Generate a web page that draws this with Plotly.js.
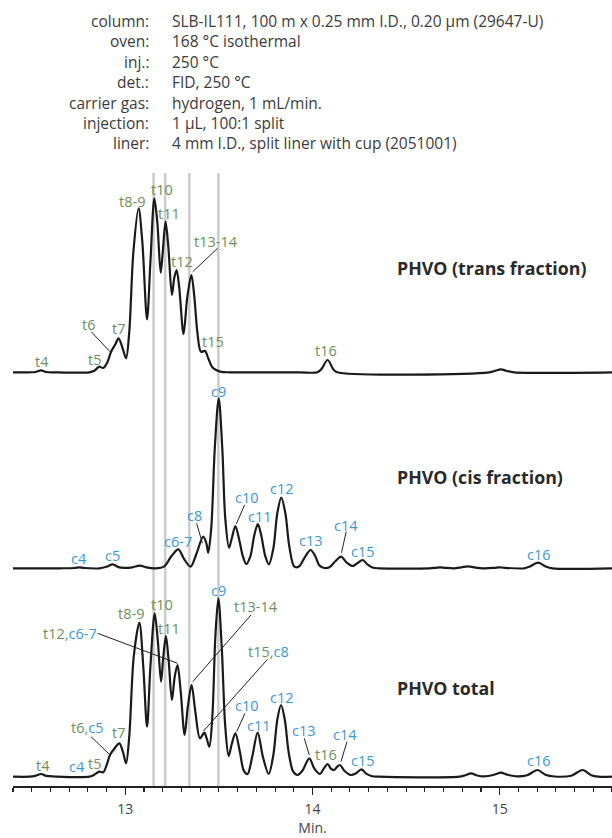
<!DOCTYPE html>
<html>
<head>
<meta charset="utf-8">
<script src="https://cdn.plot.ly/plotly-3.0.1.min.js"></script>
<style>html,body{margin:0;padding:0;background:#fff;}#chart{width:612px;height:838px;}</style>
</head>
<body>
<div id="chart"></div>
<script>
// ---- Data (retention time in min, signal height in arbitrary units) ----
const transTime = [12.40,12.487,12.519,12.550,12.578,12.621,12.808,12.834,12.861,12.882,12.904,12.924,12.947,12.964,12.984,13.004,13.021,13.043,13.071,13.091,13.116,13.134,13.155,13.171,13.189,13.200,13.215,13.230,13.249,13.262,13.274,13.288,13.311,13.331,13.353,13.369,13.385,13.404,13.426,13.443,13.465,13.485,13.513,13.556,13.929,14.026,14.047,14.081,14.111,14.132,14.944,14.976,15.007,15.036,15.078,15.60];
const transSignal = [0,0,0.3,2,0.3,0,0,1.5,5.6,4.3,10,20.6,28,34,25,14,40,120,164,130,53,110,174,150,99.6,120,150.6,125,77.3,95,102.3,85,38.3,75,97.3,75,40,20.6,21.3,14,5,2.3,0.5,0,0,0,3,12.3,3,0,0,1.5,3,1.5,0,0];

const cisTime = [12.40,12.647,12.728,12.754,12.781,12.861,12.899,12.932,12.963,12.995,13.037,13.078,13.112,13.160,13.208,13.246,13.283,13.315,13.349,13.379,13.416,13.433,13.443,13.459,13.478,13.499,13.518,13.534,13.554,13.569,13.588,13.609,13.628,13.646,13.668,13.689,13.708,13.726,13.748,13.767,13.791,13.812,13.833,13.855,13.876,13.903,13.929,13.962,13.990,14.015,14.036,14.058,14.090,14.122,14.153,14.181,14.215,14.239,14.268,14.293,14.325,14.357,14.624,14.656,14.683,14.709,14.757,14.795,14.831,14.864,14.918,14.971,14.998,15.025,15.131,15.158,15.206,15.249,15.281,15.60];
const cisSignal = [0,0,0.3,1,0.3,0,1.5,4,1.2,0.5,1,2.7,1,0,2,12,19,9,1.6,14,31.6,25,15.6,40,120,170,120,50,20.6,30,42.3,28,12,4.3,12,33,44.3,33,12,4,20,55,70.6,55,22,1.6,2,12,18.3,12,3,0.5,1,7,11.6,6,2.3,5,8.3,4,0.5,0,0,0.5,1,0.5,0,1,2,1,0,0.5,1,0.5,0,1.5,5.6,1.5,0,0];

const totalTime = [12.40,12.487,12.519,12.550,12.578,12.621,12.808,12.834,12.861,12.882,12.901,12.918,12.941,12.968,12.987,13.004,13.021,13.045,13.075,13.096,13.116,13.134,13.157,13.174,13.191,13.203,13.217,13.232,13.249,13.264,13.279,13.296,13.317,13.334,13.354,13.374,13.399,13.422,13.435,13.449,13.465,13.481,13.497,13.515,13.534,13.552,13.569,13.588,13.612,13.633,13.653,13.678,13.707,13.735,13.766,13.791,13.812,13.832,13.852,13.873,13.897,13.920,13.946,13.983,14.010,14.040,14.060,14.081,14.098,14.116,14.132,14.147,14.170,14.206,14.229,14.262,14.287,14.319,14.357,14.784,14.816,14.847,14.875,14.918,14.971,15.007,15.041,15.094,15.147,15.202,15.244,15.292,15.382,15.443,15.489,15.527,15.60];
const totalSignal = [0,0,0.8,2.7,0.8,0.2,0,2,5,4.4,12,21.7,28,33.4,25,13.4,40,120,154,110,50,110,163.4,135,95,120,140.7,115,76.7,100,111.7,85,41.7,70,91.7,65,38.4,44,38,30,60,140,178.4,130,50,20.7,33,43.4,25,6,2.7,20,44,20,2.7,22,57,71.7,57,24,5,1.7,6,18.4,8,2.7,8,12.7,8,6.7,10,11.7,6,1.7,3,7.4,3,0.5,0,0,1.5,3.4,1.5,0.3,2,4,2,0.3,1.5,6.7,2,0.2,1,6.7,1.5,0,0];

const markerTimes = [13.151, 13.213, 13.342, 13.497];
const traceNames = ["PHVO (trans fraction)", "PHVO (cis fraction)", "PHVO total"];

const headerKeys = ["column:", "oven:", "inj.:", "det.:", "carrier gas:", "injection:", "liner:"];
const headerVals = ["SLB-IL111, 100 m x 0.25 mm I.D., 0.20 µm (29647-U)", "168 °C isothermal", "250 °C", "FID, 250 °C", "hydrogen, 1 mL/min.", "1 µL, 100:1 split", "4 mm I.D., split liner with cup (2051001)"];

// ---- Layout constants ----
const H = 786;                 // plot height in px (y units = px)
const offsets = [413.7, 217.7, 9.3];
const G = '#6f8f5e', B = '#3b98d4';
const FONT = '"Open Sans", "Noto Sans", sans-serif';
const LBL = 14.5, HDR = 15.5;
const px2min = p => 13 + (p - 126) / 187.2;

const series = [[transTime, transSignal], [cisTime, cisSignal], [totalTime, totalSignal]];
const data = series.map((s, i) => ({
  x: s[0], y: s[1].map(v => v + offsets[i]),
  type: 'scatter', mode: 'lines', name: traceNames[i],
  line: {color: '#1a1a1a', width: 2.2, shape: 'spline', smoothing: 0.9},
  hoverinfo: 'x'
}));

const ann = [];
function lab(text, x, y, color) {
  ann.push({x: x, y: y, xref: 'x', yref: 'y', text: text, showarrow: false,
    xanchor: 'center', yanchor: 'middle', font: {family: FONT, size: LBL, color: color}});
}
const g = s => '<span style="color:' + G + '">' + s + '</span>';
const b = s => '<span style="color:' + B + '">' + s + '</span>';

// trans labels
[["t4",12.557,424.3],["t5",12.838,427],["t6",12.804,462],["t7",12.963,458],["t8-9",13.034,584.3],["t10",13.194,597],["t11",13.235,572.7],["t12",13.303,524.3],["t13-14",13.485,544.3],["t15",13.466,444.3],["t16",14.072,436]]
  .forEach(a => lab(a[0], a[1], a[2], G));
// cis labels
[["c4",12.754,227.7],["c5",12.932,231],["c6-7",13.283,244.3],["c8",13.370,271],["c9",13.499,394.3],["c10",13.652,288.3],["c11",13.718,270],["c12",13.835,297.7],["c13",13.990,246],["c14",14.178,261],["c15",14.268,234.3],["c16",15.212,231.7]]
  .forEach(a => lab(a[0], a[1], a[2], B));
// total labels
[["t4",12.558,21,G],["c4",12.742,20,B],["t5",12.838,22.7,G],["t7",12.963,53.3,G],["t8-9",13.030,172.7,G],["t10",13.194,182,G],["t11",13.235,157.7,G],["t13-14",13.698,179.3,G],["c9",13.497,195.3,B],["c10",13.648,81,B],["c11",13.716,61,B],["c12",13.835,88.7,B],["c13",13.955,55.3,B],["t16",14.072,32,G],["c14",14.175,52,B],["c15",14.268,25.3,B],["c16",15.208,26,B]]
  .forEach(a => lab(a[0], a[1], a[2], a[3]));
lab(g('t6,') + b('c5'), 12.793, 58.3, G);
lab(g('t12,') + b('c6-7'), 12.706, 152.7, G);
lab(g('t15,') + b('c8'), 13.766, 134.3, G);

// trace titles
[[517.7],[309.3],[97.7]].forEach((a, i) => ann.push({x: px2min(396), y: a[0], xref: 'x', yref: 'y', text: '<b>' + traceNames[i] + '</b>',
  showarrow: false, xanchor: 'left', yanchor: 'middle', font: {family: FONT, size: 17.8, color: '#2a2a2a'}}));

// header
headerKeys.forEach((k, i) => {
  const y = H - (20.7 + 20.45 * i);
  ann.push({x: px2min(151.5), y: y, xref: 'x', yref: 'y', text: k, showarrow: false, xanchor: 'right', yanchor: 'middle', font: {family: FONT, size: HDR, color: '#3c3c3c'}});
  ann.push({x: px2min(171), y: y, xref: 'x', yref: 'y', text: headerVals[i], showarrow: false, xanchor: 'left', yanchor: 'middle', font: {family: FONT, size: HDR, color: '#3c3c3c'}});
});

const shapes = markerTimes.map(t => ({type: 'line', xref: 'x', yref: 'y', x0: t, x1: t, y0: 0, y1: H - 173, layer: 'below', line: {color: '#cccccc', width: 2.5}}));
const leaders = [[12.818,454.3,12.918,434.3],[13.493,537.7,13.360,514.3],
  [13.381,262.7,13.412,242.7],[13.637,281,13.593,262],[14.180,254.3,14.155,233.3],
  [12.817,49.3,12.915,31.7],[12.852,152.7,13.279,122.7],[13.671,171,13.360,104.3],[13.760,126.7,13.418,55],[13.639,72.7,13.595,54.3],[13.956,47.7,13.983,31],[14.184,44.3,14.152,24.3]];
leaders.forEach(l => shapes.push({type: 'line', xref: 'x', yref: 'y', x0: l[0], y0: l[1], x1: l[2], y1: l[3], line: {color: '#222', width: 1}}));

const layout = {
  width: 612, height: 838, margin: {l: 13, r: 0, t: 0, b: 52},
  paper_bgcolor: '#fff', plot_bgcolor: '#fff', showlegend: false,
  xaxis: {range: [12.4, 15.6], showgrid: false, zeroline: false, showline: true, linecolor: '#222', linewidth: 1.5,
    ticks: 'outside', ticklen: 7, tickwidth: 1.3, tickcolor: '#222', tick0: 13, dtick: 1, ticklabelstandoff: 3,
    minor: {dtick: 0.1, ticks: 'outside', ticklen: 4, tickwidth: 1.1, tickcolor: '#222'},
    tickfont: {family: FONT, size: 14, color: '#444'},
    title: {text: 'Min.', font: {family: FONT, size: 14, color: '#444'}, standoff: 4}},
  yaxis: {range: [0, H], visible: false, fixedrange: true},
  annotations: ann, shapes: shapes
};
Plotly.newPlot('chart', data, layout, {displayModeBar: false, staticPlot: true});
</script>
</body>
</html>
